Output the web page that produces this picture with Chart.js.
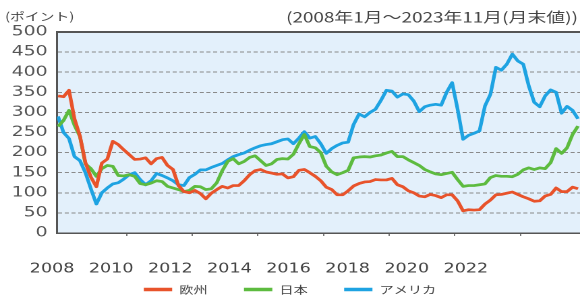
<!DOCTYPE html>
<html>
<head>
<meta charset="utf-8">
<style>
html,body{margin:0;padding:0;background:#fff;overflow:hidden;width:580px;height:298px;}
#wrap{position:absolute;left:0;top:0;width:430px;height:298px;transform:scaleX(1.3488372);transform-origin:0 0;}
#c{display:block;}
#veil{position:absolute;left:120px;top:0;width:150px;height:8px;background:rgba(255,255,255,0.85);z-index:5;}
</style>
</head>
<body>
<div id="wrap"><canvas id="c" width="430" height="298" style="width:430px;height:298px"></canvas></div>
<div id="veil"></div>
<script src="https://cdn.jsdelivr.net/npm/chart.js@4"></script>
<script>
// ---- data (month-end values) ----
const dates = [
 '2008-01','2008-03','2008-05','2008-07','2008-09','2008-11',
 '2009-01','2009-03','2009-05','2009-07','2009-09','2009-11',
 '2010-01','2010-03','2010-05','2010-07','2010-09','2010-11',
 '2011-01','2011-03','2011-05','2011-07','2011-09','2011-11',
 '2012-01','2012-03','2012-05','2012-07','2012-09','2012-11',
 '2013-01','2013-03','2013-05','2013-07','2013-09','2013-11',
 '2014-01','2014-03','2014-05','2014-07','2014-09','2014-11',
 '2015-01','2015-03','2015-05','2015-07','2015-09','2015-11',
 '2016-01','2016-03','2016-05','2016-07','2016-09','2016-11',
 '2017-01','2017-03','2017-05','2017-07','2017-09','2017-11',
 '2018-01','2018-03','2018-05','2018-07','2018-09','2018-11',
 '2019-01','2019-03','2019-05','2019-07','2019-09','2019-11',
 '2020-01','2020-03','2020-05','2020-07','2020-09','2020-11',
 '2021-01','2021-03','2021-05','2021-07','2021-09','2021-11',
 '2022-01','2022-03','2022-05','2022-07','2022-09','2022-11',
 '2023-01','2023-03','2023-05','2023-07','2023-09','2023-11'
];
const europe = [
 341,339,355,284,241,175,139,115,174,184,228,220,207,195,183,184,
 187,172,185,188,168,158,118,103,100,106,98,85,99,108,116,112,118,
 118,130,145,155,158,152,149,146,147,137,140,156,158,150,141,130,
 114,108,95,95,105,117,123,127,128,133,132,132,136,120,115,105,100,
 92,90,96,93,88,95,95,80,55,58,57,58,72,82,
 95,96,99,102,96,90,85,79,80,92,96,112,103,103,114,110
];
const japan = [
 265,280,305,268,240,172,160,141,160,168,166,143,142,145,141,123,
 120,124,130,128,116,112,108,103,106,116,115,108,110,125,155,178,185,
 172,178,188,192,180,168,172,183,185,184,196,222,245,215,212,200,
 166,152,145,150,156,187,189,190,189,192,194,199,203,190,190,182,175,
 168,158,152,147,145,148,151,133,116,118,118,120,122,138,
 143,141,141,140,146,157,162,158,162,160,175,210,198,212,245,266
];
const usa = [
 290,250,235,190,180,150,110,72,100,112,122,125,134,145,150,133,
 120,130,148,143,137,130,120,118,138,146,157,157,163,168,173,182,190,
 195,199,206,212,217,220,222,227,232,234,222,236,252,236,240,222,
 198,210,218,224,226,270,296,289,300,308,330,355,353,338,346,344,328,
 302,314,318,320,318,350,374,308,233,243,248,254,316,345,
 412,405,420,445,428,420,366,325,314,341,356,350,298,315,305,284
];
const seriesNames = ['欧州', '日本', 'アメリカ'];
const seriesColors = ['#e8532b', '#5dbb3f', '#1ea3e2'];
const yearLabels = ['2008','2010','2012','2014','2016','2018','2020','2022'];
const yTickValues = [0,50,100,150,200,250,300,350,400,450,500];
const axisTickDates = ['2010-02','2012-02','2014-02','2016-02','2018-02','2020-02','2022-02'];
const unitLabel = '(ポイント)';
const periodLabel = '(2008年1月～2023年11月(月末値))';

// ---- helpers ----
const monthIndex = s => (Number(s.slice(0, 4)) - 2008) * 12 + Number(s.slice(5, 7)) - 1;
const toPoints = vals => dates.map((d, i) => ({ x: monthIndex(d), y: vals[i] }));
const probe = (ctx, x, y) => { try { ctx.getImageData(Math.max(0, Math.round(x)), Math.max(0, Math.round(y)), 1, 1); } catch (e) {} };
let drawCount = 0;

const plotBg = {
  id: 'plotBg',
  beforeDraw(chart) {
    const a = chart.chartArea, ctx = chart.ctx;
    if (!a) return;
    ctx.save();
    ctx.fillStyle = '#e3f0fb';
    ctx.fillRect(a.left, a.top, a.right - a.left, a.bottom - a.top);
    ctx.restore();
    probe(ctx, 600, 2 * chart.scales.y.getPixelForValue(475));
  },
  afterLayout(chart) {
    // move the legend row up to sit just under the year labels
    const lg = chart.legend;
    const h = lg.bottom - lg.top;
    lg.top = 257.25;
    lg.bottom = lg.top + h;
  },
  beforeDatasetsDraw(chart) {
    probe(chart.ctx, 600, 2 * chart.scales.y.getPixelForValue(300));
  },
  afterDraw(chart) {
    probe(chart.ctx, 600, 2 * chart.scales.y.getPixelForValue(475));
    drawCount += 1;
    document.getElementById('veil').style.width = (150 + (drawCount % 2)) + 'px';
  }
};
const header = {
  id: 'header',
  afterDraw(chart) {
    const ctx = chart.ctx;
    ctx.save();
    ctx.fillStyle = '#444';
    ctx.textBaseline = 'middle';
    ctx.textAlign = 'left';
    ctx.font = '11px "Noto Sans CJK JP"';
    ctx.fillText(unitLabel, 3.7, 16.5);
    ctx.textAlign = 'right';
    ctx.font = '14px "Noto Sans CJK JP"';
    ctx.fillText(periodLabel, 428.5, 17);
    ctx.restore();
  }
};

new Chart(document.getElementById('c'), {
  type: 'line',
  data: {
    datasets: [europe, japan, usa].map((vals, i) => ({
      label: seriesNames[i],
      data: toPoints(vals),
      borderColor: seriesColors[i],
      backgroundColor: seriesColors[i],
      borderWidth: 2.7,
      pointRadius: 0,
      tension: 0,
      fill: false,
      borderJoinStyle: 'round',
      xAxisID: 'x',
      yAxisID: 'y'
    }))
  },
  options: {
    responsive: false,
    maintainAspectRatio: false,
    animation: false,
    devicePixelRatio: 2,
    events: [],
    layout: { padding: { top: 32, left: 0, right: 0, bottom: -25.5 } },
    plugins: {
      tooltip: { enabled: false },
      title: { display: false },
      legend: {
        position: 'bottom',
        labels: {
          usePointStyle: true,
          pointStyle: 'line',
          pointStyleWidth: 21,
          padding: 27,
          color: '#444',
          font: { family: '"Noto Sans CJK JP"', size: 10.5 },
          generateLabels: c => Chart.defaults.plugins.legend.labels.generateLabels(c)
            .map(l => Object.assign(l, { lineWidth: 3.5 }))
        }
      }
    },
    scales: {
      x: {
        type: 'linear',
        axis: 'x',
        position: 'bottom',
        min: -0.365,
        max: 190.73,
        afterBuildTicks: s => { s.ticks = axisTickDates.map(d => ({ value: monthIndex(d) })); },
        afterFit: s => { s.height = 3; s.paddingLeft = 0; s.paddingRight = 0; },
        ticks: { display: false },
        grid: { display: true, drawOnChartArea: false, drawTicks: true, tickLength: 3, color: '#777', lineWidth: 1 },
        border: { display: true, color: '#555', width: 1.5 }
      },
      xl: {
        type: 'linear',
        axis: 'x',
        position: 'bottom',
        min: 2008.169,
        max: 2025.862,
        afterBuildTicks: s => { s.ticks = yearLabels.map(l => ({ value: Number(l) })); },
        afterFit: s => { s.height = 40; s.paddingLeft = 0; s.paddingRight = 0; },
        grid: { display: false, drawTicks: false },
        border: { display: false },
        ticks: {
          autoSkip: false,
          maxRotation: 0,
          minRotation: 0,
          padding: 32.25,
          color: '#444',
          font: { family: 'DejaVu Sans', size: 13, lineHeight: '1.5px' },
          callback: v => String(v)
        }
      },
      xt: {
        type: 'linear',
        axis: 'x',
        position: 'top',
        min: -0.365,
        max: 190.73,
        afterFit: s => { s.height = 0; s.paddingLeft = 0; s.paddingRight = 0; },
        ticks: { display: false },
        grid: { display: false, drawTicks: false },
        border: { display: true, color: '#555', width: 2 }
      },
      y: {
        type: 'linear',
        position: 'left',
        min: 0,
        max: 500,
        afterBuildTicks: s => { s.ticks = yTickValues.map(v => ({ value: v })); },
        afterFit: s => { s.width = 42.3; s.paddingTop = 0; s.paddingBottom = 0; },
        ticks: {
          padding: 7,
          color: '#555',
          font: { family: 'DejaVu Sans', size: 14 },
          callback: v => String(v)
        },
        grid: { display: true, drawTicks: false, color: '#8a8a8a', lineWidth: 1 },
        border: { display: true, color: '#555', width: 1.5, dash: [3, 2] }
      }
    }
  },
  plugins: [plotBg, header]
});
</script>
</body>
</html>
